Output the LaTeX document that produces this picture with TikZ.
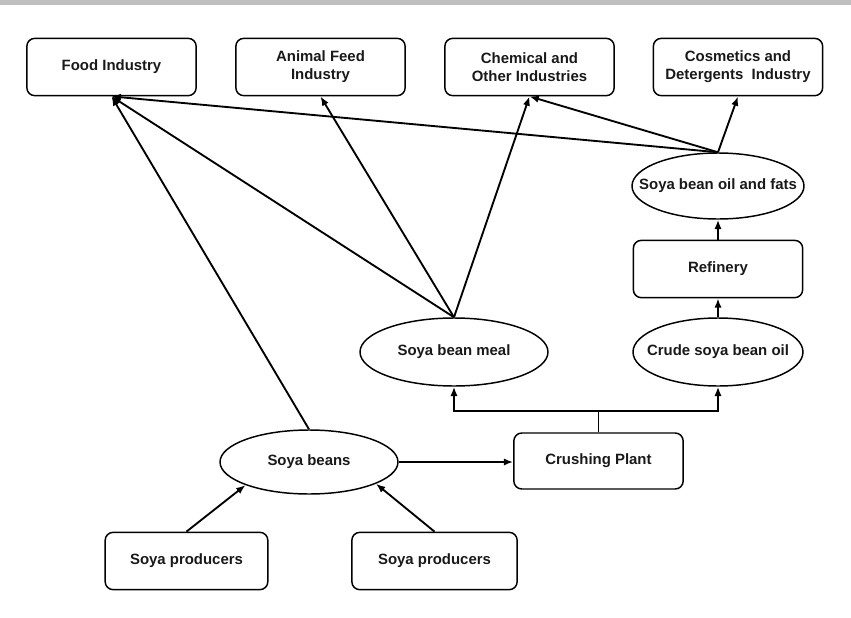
\documentclass[tikz,border=0pt]{standalone}
\usepackage{fontspec}
\setmainfont{Liberation Sans}
\usetikzlibrary{arrows.meta,shapes.geometric}
\begin{document}
\begin{tikzpicture}[x=0.75pt,y=-0.75pt,
  every node/.style={font=\fontsize{11.2}{13.5}\selectfont\bfseries, align=center, text=black!90},
  box/.style={draw, line width=1.1pt, rounded corners=6pt, minimum width=127pt, minimum height=43pt, inner sep=2pt},
  oval/.style={draw, ellipse, line width=1.1pt, inner xsep=-20pt, inner ysep=0pt},
  arr/.style={line width=1.4pt, -{Latex[length=7pt,width=5.5pt]}},
  ln/.style={line width=1.4pt}]
\useasboundingbox (0,0) rectangle (851,618);
\fill[black!25] (0,0) rectangle (851,5);

% top row
\node[box] (food) at (111.5,67) {Food Industry};
\node[box] (animal) at (320.5,67) {Animal Feed\\Industry};
\node[box] (chem) at (529.5,67) {Chemical and\\Other Industries};
\node[box] (cosm) at (738,67) {Cosmetics and\\Detergents\ \ Industry};

% right column
\node[oval, minimum width=129pt, minimum height=49.5pt] (fats) at (718,186) {Soya bean oil and fats};
\node[box] (ref) at (718,269) {Refinery};
\node[oval, minimum width=127.5pt, minimum height=51pt] (crude) at (718,352) {Crude soya bean oil};
\node[oval, minimum width=141pt, minimum height=51pt] (meal) at (454,352) {Soya bean meal};

% bottom
\node[box, minimum height=42pt] (crush) at (598.5,461) {Crushing Plant};
\node[oval, minimum width=133.5pt, minimum height=48pt] (beans) at (309,462) {Soya beans};
\node[box, minimum width=122pt] (p1) at (186.5,561) {Soya producers};
\node[box, minimum width=124pt] (p2) at (434.5,561) {Soya producers};

\coordinate (split) at (598.5,411);

% connectors
\draw[arr] (p1.north) -- (beans.200);
\draw[arr] (p2.north) -- (beans.-18);
\draw[arr] (beans.east) -- (beans.east -| crush.west);
\draw[arr] (crush.north) -- (crush.north |- split) -| (meal.south);
\draw[arr] (crush.north |- split) -| (crude.south);
\draw[arr] (crude.north) -- (ref.south);
\draw[arr] (ref.north) -- (fats.south);

\draw[arr] (fats.north) -- (food.south);
\draw[arr] (fats.north) -- (chem.south);
\draw[arr] (fats.north) -- (cosm.south);
\draw[arr] (meal.north) -- (food.south);
\draw[arr] (meal.north) -- (animal.south);
\draw[arr] (meal.north) -- (chem.south);
\draw[arr] (beans.north) -- (food.south);
\end{tikzpicture}
\end{document}
